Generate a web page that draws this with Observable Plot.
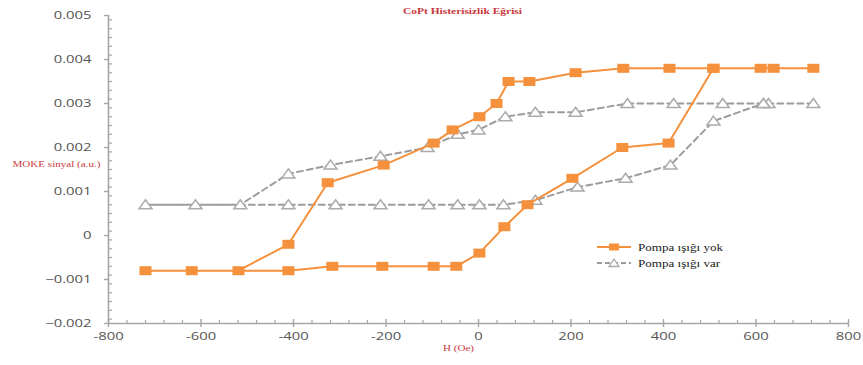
<!DOCTYPE html>
<html>
<head>
<meta charset="utf-8">
<script src="https://cdn.jsdelivr.net/npm/d3@7"></script>
<script src="https://cdn.jsdelivr.net/npm/@observablehq/plot@0.6"></script>
<style>
  body { margin: 0; background: #fff; }
  #wrap { position: relative; width: 863px; height: 365px; }
  #legend { position: absolute; left: 597px; top: 239px; font-family: "Liberation Serif", serif; font-size: 9.7px; color: #1a1a1a; }
  #legend .row { display: flex; align-items: center; height: 16px; }
  #legend svg { width: 34px; height: 12px; margin-right: 7px; }
  #legend span { display: inline-block; transform: scaleX(1.35); transform-origin: left center; white-space: nowrap; }
</style>
</head>
<body>
<div id="wrap">
  <div id="chart"></div>
  <div id="legend"></div>
</div>
<script>
// Series labels
const seriesNames = ["Pompa ışığı yok", "Pompa ışığı var"];

// Pump light off: field sweep down (upper branch) then back up (lower branch)
const yokH = [724, 638, 610, 508, 413, 313, 210, 110, 65, 39, 2, -56, -97, -205, -326, -411, -519, -620, -720,
              -411, -316, -208, -97, -48, 2, 56, 106, 203, 311, 411, 508];
const yokM = [0.0038, 0.0038, 0.0038, 0.0038, 0.0038, 0.0038, 0.0037, 0.0035, 0.0035, 0.0030, 0.0027, 0.0024, 0.0021, 0.0016, 0.0012, -0.0002, -0.0008, -0.0008, -0.0008,
              -0.0008, -0.0007, -0.0007, -0.0007, -0.0007, -0.0004, 0.0002, 0.0007, 0.0013, 0.0020, 0.0021, 0.0038];

// Pump light on
const varH = [724, 627, 616, 528, 422, 322, 210, 123, 58, 0, -45, -110, -212, -320, -411, -515, -612, -720,
              -411, -309, -212, -108, -45, 2, 54, 123, 214, 318, 415, 508, 616];
const varM = [0.0030, 0.0030, 0.0030, 0.0030, 0.0030, 0.0030, 0.0028, 0.0028, 0.0027, 0.0024, 0.0023, 0.0020, 0.0018, 0.0016, 0.0014, 0.0007, 0.0007, 0.0007,
              0.0007, 0.0007, 0.0007, 0.0007, 0.0007, 0.0007, 0.0007, 0.0008, 0.0011, 0.0013, 0.0016, 0.0026, 0.0030];

// Axis ticks
const xTicks = [-800, -600, -400, -200, 0, 200, 400, 600, 800];
const xMinor = d3.range(-760, 800, 40).filter(v => v % 200 !== 0);
const yTicks = [-0.002, -0.001, 0, 0.001, 0.002, 0.003, 0.004, 0.005];
const yMinor = d3.range(-19, 50, 2).map(v => v / 10000).filter((v, i) => Math.round(v * 10000) % 10 !== 0);

const titleText = "CoPt Histerisizlik Eğrisi";
const xLabel = "H (Oe)";
const yLabel = "MOKE sinyal (a.u.)";

const yok = yokH.map((h, i) => ({h, m: yokM[i], seri: seriesNames[0]}));
const on = varH.map((h, i) => ({h, m: varM[i], seri: seriesNames[1]}));

const orange = "#f5913c";
const grayLine = "#9c9c9c";
const grayMark = "#ababab";
const axisGray = "#a6a6a6";
const red = "#c9383d";

// Marker shapes: a flat rectangle and an open triangle
const rectSymbol = { draw(ctx) { ctx.rect(-6, -4.5, 12, 9); } };
const triSymbol = { draw(ctx) { ctx.moveTo(0, -5); ctx.lineTo(6.5, 4); ctx.lineTo(-6.5, 4); ctx.closePath(); } };

const W = 863, H = 365, mL = 108, mR = 15, mT = 15, mB = 42;
const plotW = W - mL - mR, plotH = H - mT - mB;

const fmt = d => d === 0 ? "0" : d3.format(".3f")(d);

const chart = Plot.plot({
  width: W,
  height: H,
  marginLeft: mL,
  marginRight: mR,
  marginTop: mT,
  marginBottom: mB,
  style: { background: "#fff", overflow: "visible" },
  x: { domain: [-800, 800], label: null },
  y: { domain: [-0.002, 0.005], label: null },
  marks: [
    // axis lines
    Plot.ruleX([-800], { stroke: axisGray, strokeWidth: 1.6 }),
    Plot.ruleY([-0.002], { stroke: axisGray, strokeWidth: 1.6 }),
    // minor ticks inside the frame
    Plot.ruleY(yMinor, { y: d => d, stroke: axisGray, strokeWidth: 1.2, insetRight: plotW - 4 }),
    Plot.ruleX(xMinor, { x: d => d, stroke: axisGray, strokeWidth: 1.2, insetTop: plotH - 3 }),
    Plot.ruleX(xTicks, { x: d => d, stroke: axisGray, strokeWidth: 1.4, insetTop: plotH - 4 }),
    // major ticks and labels
    Plot.axisY(yTicks, { tickSize: 4, tickPadding: 13, tickFormat: fmt, stroke: axisGray, strokeWidth: 1.4,
      fill: "#555", fontSize: 11, fontFamily: "Open Sans", label: null }),
    Plot.axisX(xTicks, { tickSize: 4, tickPadding: 5, tickFormat: d => String(d), stroke: axisGray, strokeWidth: 1.4,
      fill: "#555", fontSize: 11, fontFamily: "Open Sans", label: null }),
    // pump light on: dashed gray with open triangles
    Plot.line(on, { x: "h", y: "m", stroke: grayLine, strokeWidth: 2, strokeDasharray: "6,4" }),
    Plot.dot(on, { x: "h", y: "m", symbol: triSymbol, fill: "#fff", stroke: grayMark, strokeWidth: 1.5 }),
    // pump light off: solid orange with filled rectangles
    Plot.line(yok, { x: "h", y: "m", stroke: orange, strokeWidth: 2 }),
    Plot.dot(yok, { x: "h", y: "m", symbol: rectSymbol, fill: orange, stroke: "none" }),
    // titles
    Plot.text([titleText], { text: d => d, frameAnchor: "top", dx: -16, dy: -8, fill: red,
      fontFamily: "Liberation Serif", fontWeight: "bold", fontSize: 8.5, ariaLabel: "title" }),
    Plot.text([yLabel], { text: d => d, frameAnchor: "left", textAnchor: "start", dx: -96, dy: -5, fill: red,
      fontFamily: "Liberation Serif", fontSize: 8.2, ariaLabel: "ylabel" }),
    Plot.text([xLabel], { text: d => d, frameAnchor: "bottom", dx: -20, dy: 27, fill: red,
      fontFamily: "Liberation Serif", fontSize: 8.2, ariaLabel: "xlabel" })
  ]
});

// Widen all lettering horizontally, keeping each label's anchor fixed
chart.querySelectorAll("text").forEach(t => {
  const tr = t.getAttribute("transform") || "";
  t.setAttribute("transform", (tr + " scale(1.35,1)").trim());
});

document.getElementById("chart").appendChild(chart);

// Legend
const legend = d3.select("#legend");
const rows = [
  { name: seriesNames[0], stroke: orange, dash: null, shape: "rect" },
  { name: seriesNames[1], stroke: grayLine, dash: "5,3", shape: "tri" }
];
rows.forEach(r => {
  const row = legend.append("div").attr("class", "row");
  const s = row.append("svg").attr("viewBox", "0 0 34 12");
  s.append("line").attr("x1", 0).attr("x2", 34).attr("y1", 6).attr("y2", 6)
    .attr("stroke", r.stroke).attr("stroke-width", 2).attr("stroke-dasharray", r.dash);
  if (r.shape === "rect") {
    s.append("rect").attr("x", 12).attr("y", 2.5).attr("width", 10).attr("height", 7).attr("fill", orange);
  } else {
    s.append("path").attr("d", "M17,2 L22,9.5 L12,9.5 Z").attr("fill", "#fff").attr("stroke", grayMark).attr("stroke-width", 1.3);
  }
  row.append("span").text(r.name);
});
</script>
</body>
</html>
